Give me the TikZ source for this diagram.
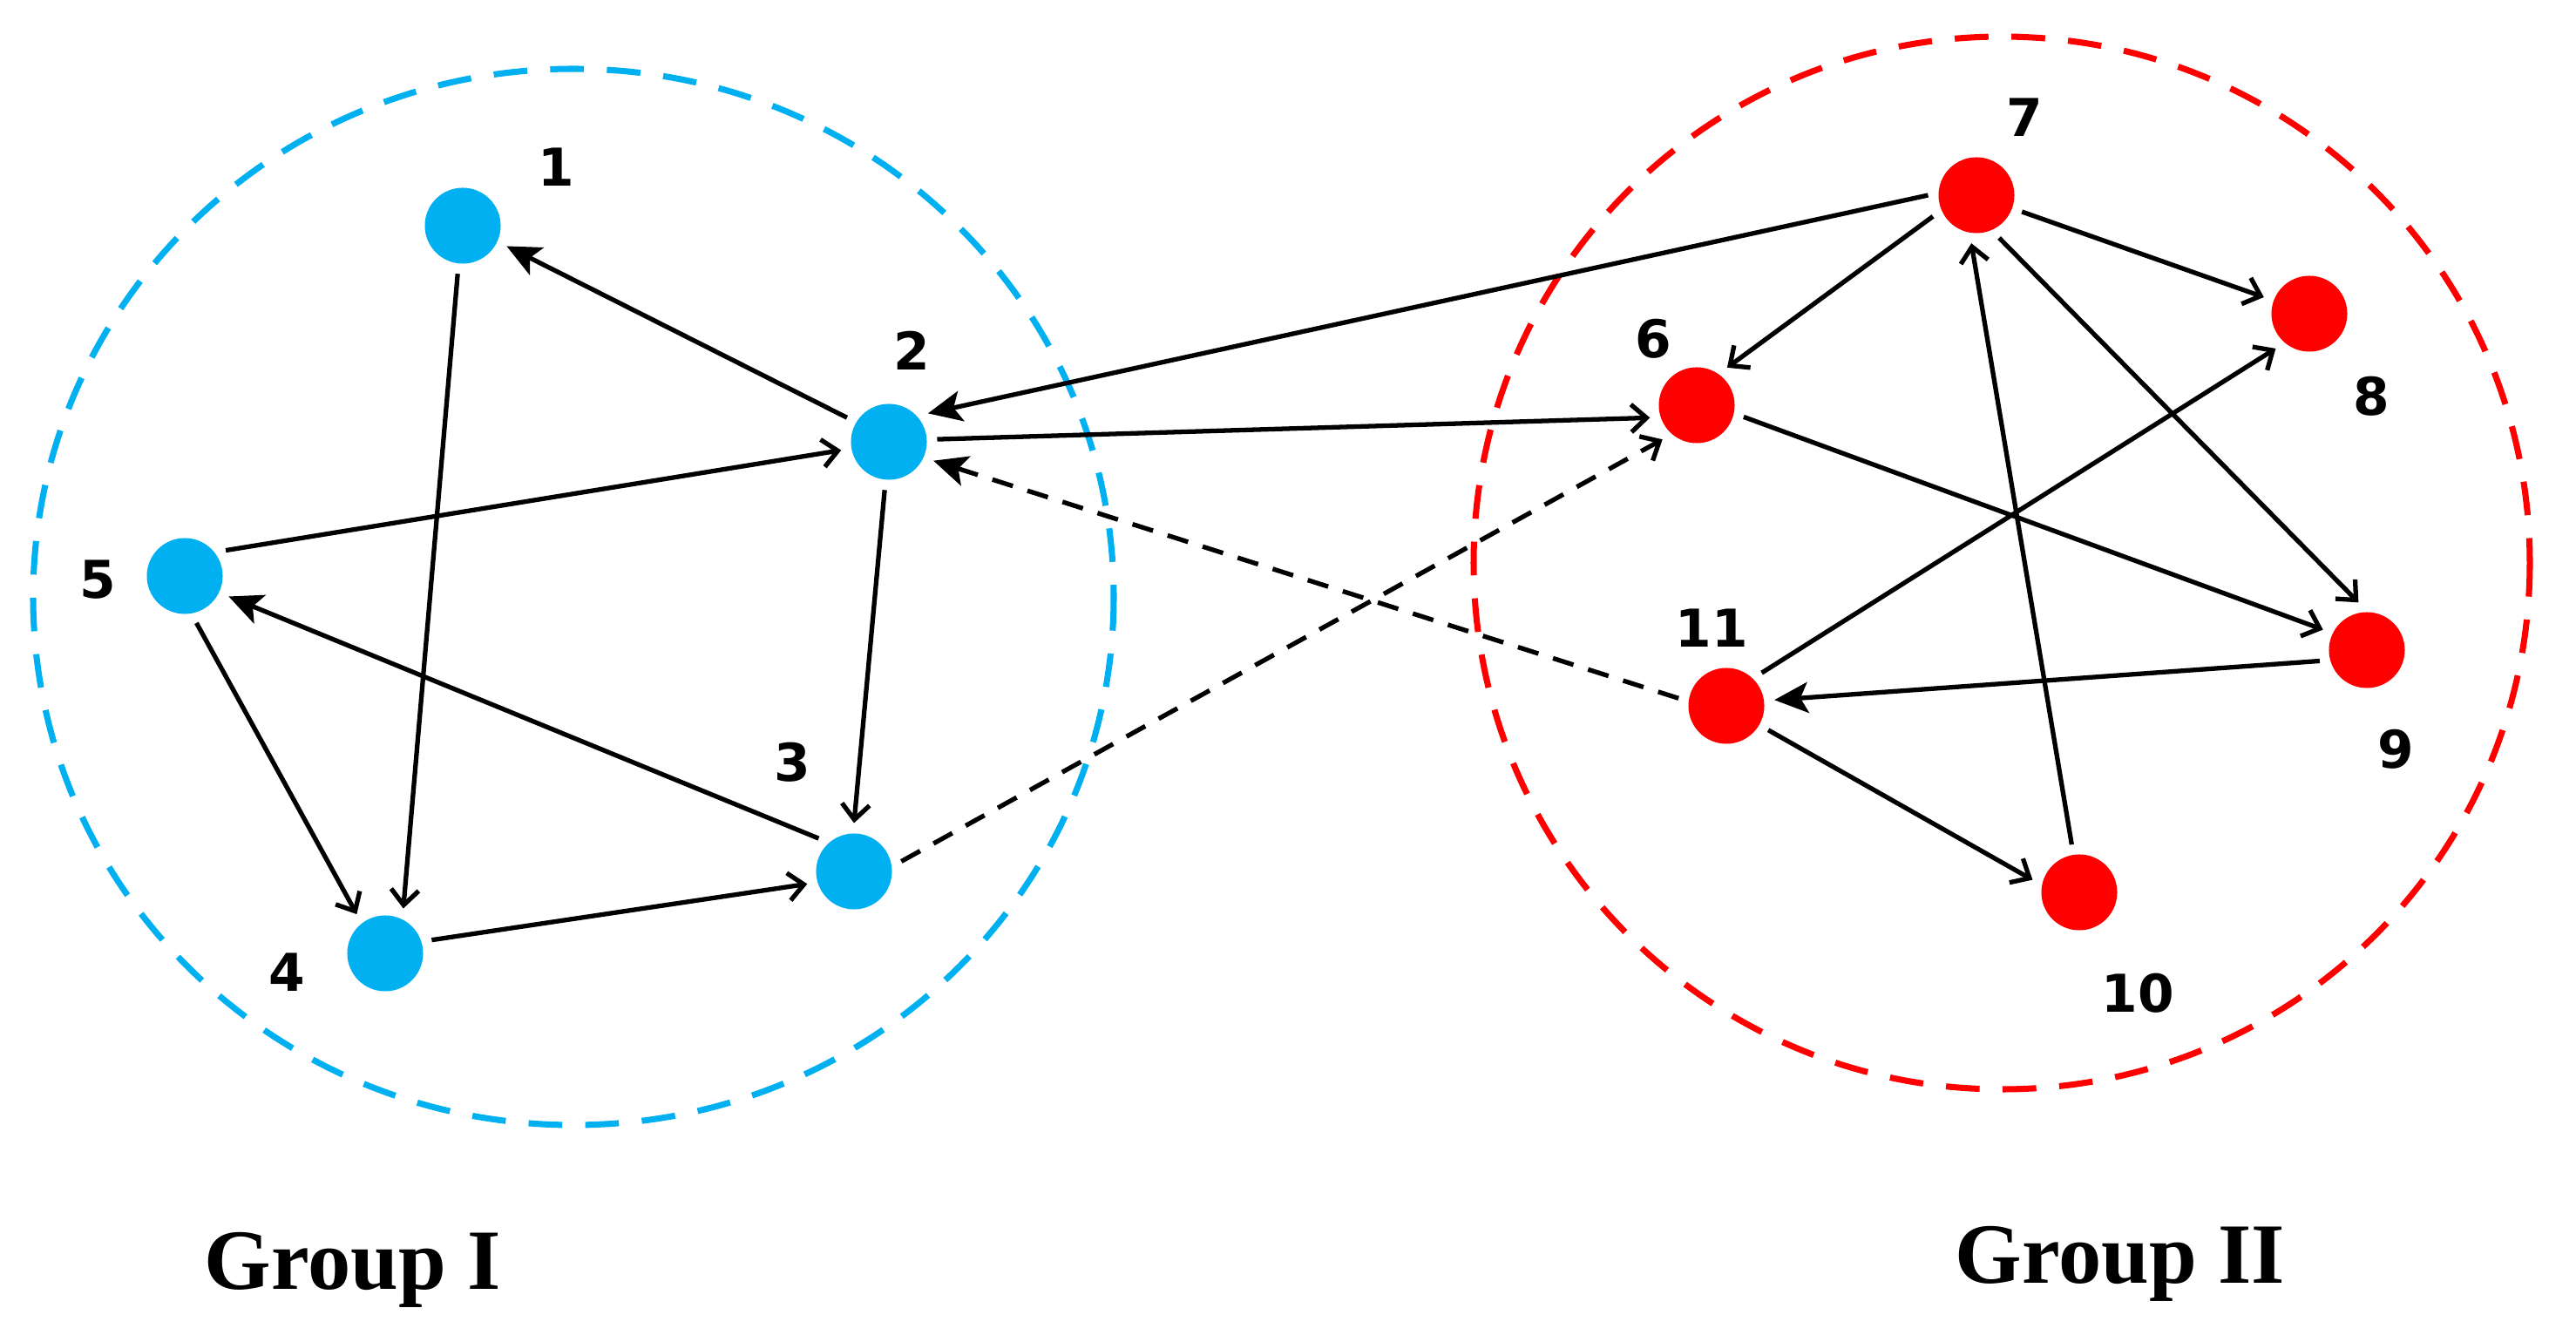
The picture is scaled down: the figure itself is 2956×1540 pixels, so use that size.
\documentclass[tikz,border=0pt]{standalone}
\usepackage{fontspec}
\newfontfamily\numfont{DejaVu Sans}
\newfontfamily\grpfont{Liberation Serif}
\usetikzlibrary{arrows.meta}
\definecolor{grpblue}{RGB}{0,176,240}
\definecolor{grpred}{RGB}{255,0,0}

\begin{document}
\begin{tikzpicture}[x=0.01cm, y=-0.01cm, line join=round,
    vertex/.style={circle, inner sep=0pt, minimum size=0.87cm, outer sep=0.12cm},
    num/.style={font=\numfont\bfseries\fontsize{17}{17}\selectfont, inner sep=0pt},
    grp/.style={font=\grpfont\bfseries\fontsize{28}{28}\selectfont, anchor=base, inner sep=0pt},
    edge/.style={line width=1.5pt, -{Straight Barb[length=5pt,width=9pt]}},
    fedge/.style={line width=1.5pt, -{Stealth[length=11pt,width=10pt,inset=2.5pt]}},
    dashedge/.style={dash pattern=on 7pt off 5pt},
    ring/.style={line width=2pt, dash pattern=on 11pt off 7.5pt}]
    \useasboundingbox (0,0) rectangle (2956,1540);
    % the two groups
    \draw[ring, grpblue] (658,685) ellipse [x radius=620, y radius=606];
    \draw[ring, grpred] (2297,646) ellipse [x radius=606, y radius=604];
    % vertices
    \foreach \n/\x/\y in {1/531/259, 2/1020/507, 3/980/1000, 4/442/1094, 5/212/661}
        \node[vertex, fill=grpblue] (n\n) at (\x,\y) {};
    \foreach \n/\x/\y in {6/1947/465, 7/2268/224, 8/2650/360, 9/2716/746, 10/2386/1024, 11/1981/810}
        \node[vertex, fill=grpred] (n\n) at (\x,\y) {};
    % numbers
    \foreach \n/\x/\y in {1/638/192, 2/1046/402, 3/909/875, 4/329/1116, 5/112/665,
                          6/1897/389, 7/2323/135, 8/2721/455, 9/2749/860, 10/2453/1140, 11/1964/721}
        \node[num] (l\n) at (\x,\y) {\n};
    % edges with open heads
    \foreach \s/\t in {n2.-95/n3.90, n1.-96/n4.68, n5.32/n2.190, n5.-76/n4.126, n4.16/n3.195,
                       n2.3/n6.195, n7.206/n6.51, n7.-20/n8.160, n7.-62/n9.100, n6.-14/n9.155,
                       n10.99/n7.-96, n11.43/n8.226, n11.-30/n10.165}
        \draw[edge] (\s) -- (\t);
    % edges with filled heads
    \foreach \s/\t in {n2.150/n1.-25, n3.137/n5.-25, n7.180/n2.36, n9.193/n11.7}
        \draw[fedge] (\s) -- (\t);
    \draw[edge, dashedge] (n3.12) -- (n6.225);
    \draw[fedge, dashedge] (n11.171) -- (n2.-23);
    % group names
    \node[grp] (g1) at (405,1479) {Group I};
    \node[grp] (g2) at (2433,1472) {Group II};
\end{tikzpicture}
\end{document}
